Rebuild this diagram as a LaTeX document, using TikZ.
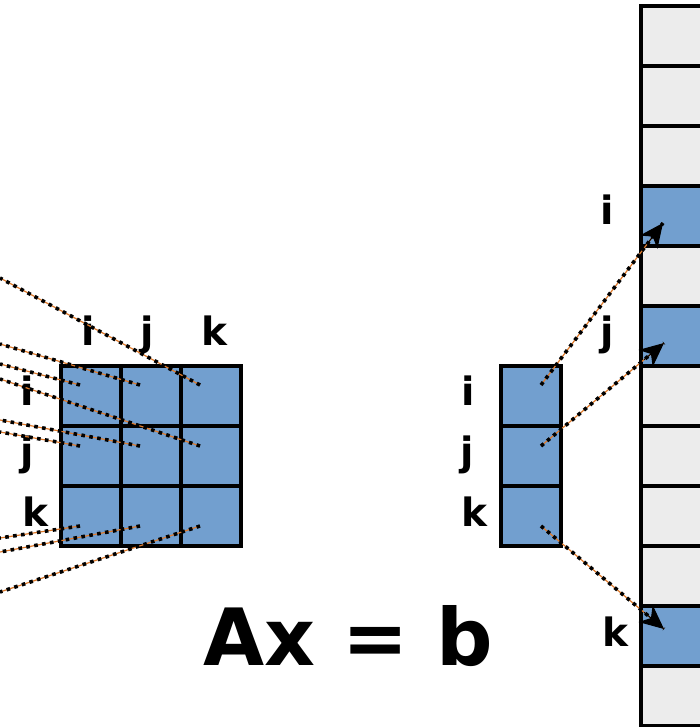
\documentclass[tikz,border=0pt]{standalone}
\usepackage{fontspec}
\setmainfont{DejaVu Sans}
\usepackage{tikz}
\usetikzlibrary{arrows.meta,calc}

\definecolor{cellblue}{HTML}{729FCF}
\definecolor{cellgray}{HTML}{ECECEC}
\definecolor{linkorange}{HTML}{DE7A2C}

\tikzset{
  cell/.style={draw=black, line width=3.6pt, fill=cellblue, minimum size=60pt, inner sep=0pt, outer sep=0pt},
  slot/.style={cell, fill=cellgray, minimum width=62pt},
  hit/.style={slot, fill=cellblue},
  lbl/.style={anchor=base, inner sep=0pt, font=\fontsize{39}{39}\selectfont\bfseries},
  link/.style={draw=black, line width=3.6pt, dash pattern=on 3.6pt off 4.4pt,
    preaction={draw=linkorange, line width=1.2pt, solid}},
  tip/.style={draw=black, line width=1pt, solid, -{Stealth[length=24pt, width=22pt, inset=7pt]}},
}

\begin{document}
\begin{tikzpicture}[x=1pt, y=-1pt]
	\useasboundingbox (0,0) rectangle (700,727);
	% matrix A
	\node[cell] (a11) at (91,396) {};
	\node[cell] (a12) at (151,396) {};
	\node[cell] (a13) at (211,396) {};
	\node[cell] (a21) at (91,456) {};
	\node[cell] (a22) at (151,456) {};
	\node[cell] (a23) at (211,456) {};
	\node[cell] (a31) at (91,516) {};
	\node[cell] (a32) at (151,516) {};
	\node[cell] (a33) at (211,516) {};
	% vector x
	\node[cell] (x1) at (531,396) {};
	\node[cell] (x2) at (531,456) {};
	\node[cell] (x3) at (531,516) {};
	% vector b
	\foreach \n/\y in {1/36,2/96,3/156,5/276,7/396,8/456,9/516,10/576,12/696}
		\node[slot] (b\n) at (672,\y) {};
	\node[hit] (b4) at (672,216) {};
	\node[hit] (b6) at (672,336) {};
	\node[hit] (b11) at (672,636) {};

	% labels
	\node[lbl] (ci) at (88,345) {i};
	\node[lbl] (cj) at (147,345) {j};
	\node[lbl] (ck) at (214,345) {k};
	\node[lbl] (ri) at (27,405) {i};
	\node[lbl] (rj) at (27,465) {j};
	\node[lbl] (rk) at (35,526) {k};
	\node[lbl] (xi) at (468,405) {i};
	\node[lbl] (xj) at (467,465) {j};
	\node[lbl] (xk) at (474,526) {k};
	\node[lbl] (bi) at (607,225) {i};
	\node[lbl] (bj) at (607,345) {j};
	\node[lbl] (bk) at (615,646) {k};
	\node[lbl, font=\fontsize{79}{79}\selectfont\bfseries] (eq) at (348,665) {Ax = b};

	% points inside the cells
	\coordinate (p11) at (80,385);
	\coordinate (p12) at (140,385);
	\coordinate (p13) at (200,385);
	\coordinate (p21) at (80,446);
	\coordinate (p22) at (140,446);
	\coordinate (p23) at (200,446);
	\coordinate (p31) at (80,526);
	\coordinate (p32) at (140,526);
	\coordinate (p33) at (200,526);
	\coordinate (q1) at (541,385);
	\coordinate (q2) at (541,446);
	\coordinate (q3) at (541,526);
	\coordinate (t4) at (663,223);
	\coordinate (t6) at (664,343);
	\coordinate (t11) at (664,629);
	% free ends at the left edge
	\coordinate (e13) at (0,278);
	\coordinate (e12) at (0,344);
	\coordinate (e11) at (0,364);
	\coordinate (e23) at (0,379);
	\coordinate (e22) at (0,420);
	\coordinate (e21) at (0,432);
	\coordinate (e31) at (0,538);
	\coordinate (e32) at (0,552);
	\coordinate (e33) at (0,592);

	\draw[link] (p13) -- (e13);
	\draw[link] (p12) -- (e12);
	\draw[link] (p11) -- (e11);
	\draw[link] (p23) -- (e23);
	\draw[link] (p22) -- (e22);
	\draw[link] (p21) -- (e21);
	\draw[link] (p31) -- (e31);
	\draw[link] (p32) -- (e32);
	\draw[link] (p33) -- (e33);

	\draw[link] (q1) -- (t4);
	\draw[link] (q2) -- (t6);
	\draw[link] (q3) -- (t11);
	\draw[tip] ($(t4)!26pt!(q1)$) -- (t4);
	\draw[tip] ($(t6)!26pt!(q2)$) -- (t6);
	\draw[tip] ($(t11)!26pt!(q3)$) -- (t11);
\end{tikzpicture}
\end{document}
